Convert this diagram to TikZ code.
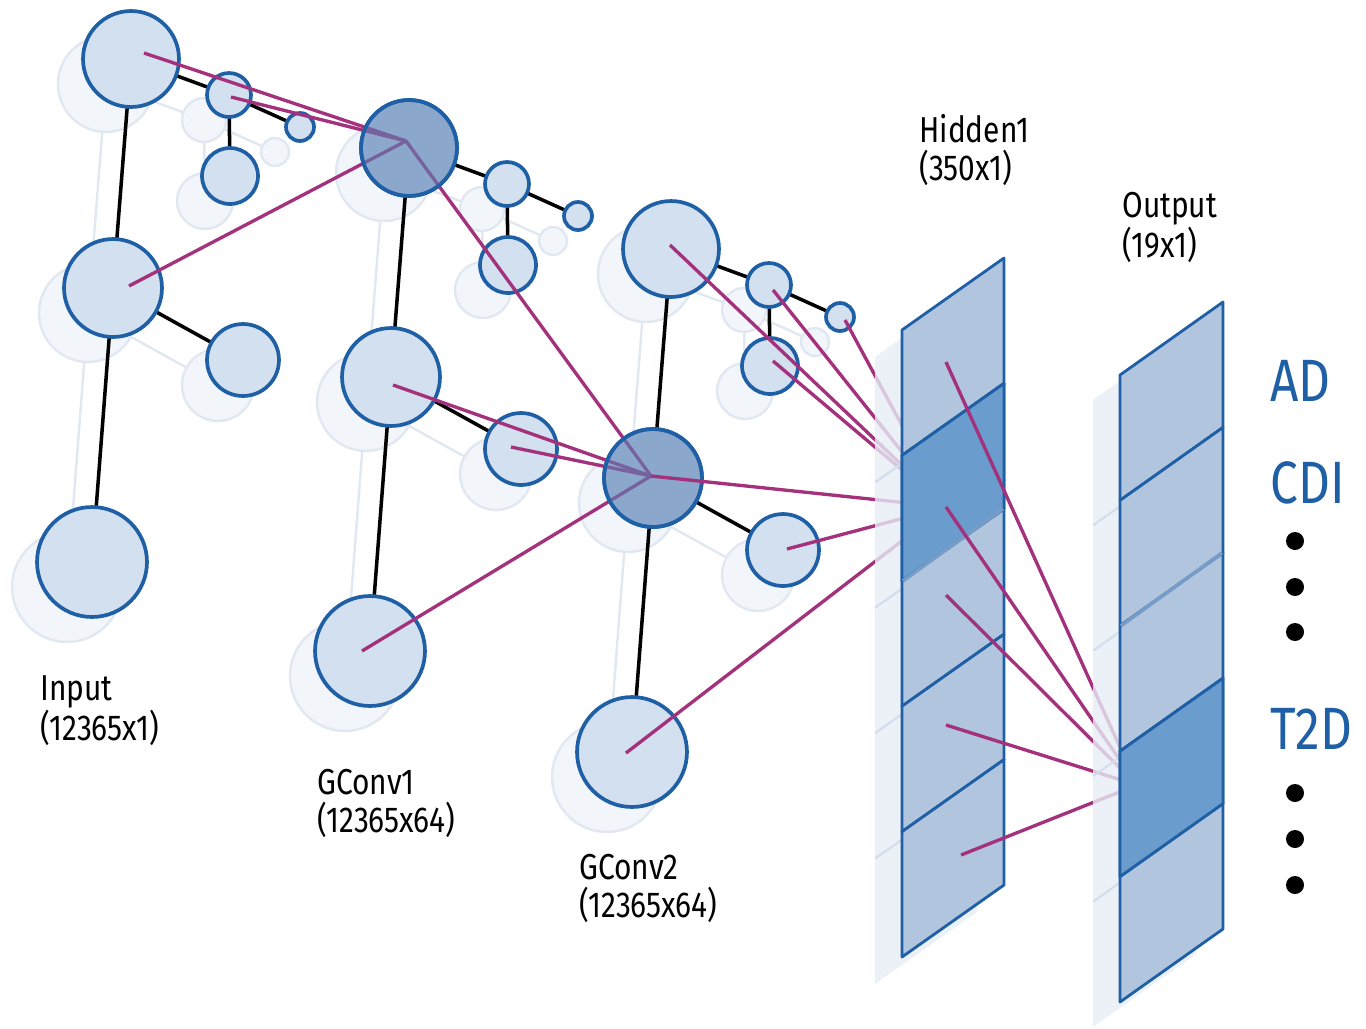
\documentclass[tikz,border=0pt]{standalone}
\usepackage{fontspec}
\setmainfont{Fira Sans}[FakeStretch=0.83]
\definecolor{blu}{HTML}{1E5FA6}
\definecolor{lite}{HTML}{D3E0EF}
\definecolor{deep}{HTML}{5B83B6}
\definecolor{mag}{HTML}{A3317C}
\definecolor{ghfill}{HTML}{F2F5FA}
\definecolor{ghline}{HTML}{E2E8F2}
\definecolor{segfill}{HTML}{B2C5DF}
\definecolor{segdark}{HTML}{6A9CCE}
\definecolor{panel}{HTML}{E7EDF6}
\definecolor{panline}{HTML}{D3DDEC}
% node layout of one graph (index/dx/dy/radius) and its edges
\newcommand{\gpos}{1/0/0/48,2/98/36/22,3/169/68/14,4/99/117/28,5/-18/229/49,6/112/301/36,7/-39/503/55}
\newcommand{\glinks}{1/5,5/7,1/2,2/3,2/4,5/6}
\tikzset{vtx/.style={circle,draw=blu,fill=lite,line width=2.1pt,inner sep=0pt,minimum size=#1*0.04cm},
  ghv/.style={circle,draw=ghline,fill=ghfill,line width=1.4pt,inner sep=0pt,minimum size=#1*0.04cm},
  wire/.style={line width=2pt,draw=black},ghwire/.style={line width=1.4pt,draw=ghline},
  syn/.style={line width=1.9pt,draw=mag},
  active/.style={fill=deep,fill opacity=.6,draw=blu,line width=2.1pt},
  seg/.style={fill=segfill,draw=blu,line width=1.6pt,line join=round},
  lbl/.style={anchor=north west,inner sep=0pt,align=left,font=\fontsize{20.5}{21.6}\selectfont},
  cls/.style={anchor=north west,inner sep=0pt,text=blu,font=\fontsize{34}{36}\selectfont},
  dotn/.style={circle,fill=black,inner sep=0pt,minimum size=3.6mm}}
\begin{document}
\begin{tikzpicture}[x=0.02cm,y=-0.02cm]
\useasboundingbox (0,0) rectangle (1366,1028);
% shadow copies
\foreach \g/\ox/\oy in {a/131/59,b/409/148,c/671/249}{
  \begin{scope}[shift={(\ox-25,\oy+25)}]
    \foreach \i/\px/\py/\r in \gpos \coordinate (s\g\i) at (\px,\py);
  \end{scope}
  \foreach \u/\v in \glinks \draw[ghwire] (s\g\u)--(s\g\v);
  \foreach \i/\px/\py/\r in \gpos \node[ghv=\r] (sn\g\i) at (s\g\i) {};
}
% the three graphs
\foreach \g/\ox/\oy in {a/131/59,b/409/148,c/671/249}{
  \begin{scope}[shift={(\ox,\oy)}]
    \foreach \i/\px/\py/\r in \gpos \coordinate (\g\i) at (\px,\py);
  \end{scope}
  \foreach \u/\v in \glinks \draw[wire] (\g\u)--(\g\v);
  \foreach \i/\px/\py/\r in \gpos \node[vtx=\r] (n\g\i) at (\g\i) {};
}
\foreach \s/\dx/\dy in {a1/13/-6,a2/2/2,a5/16/-2}
  \draw[syn] ([shift={(\dx,\dy)}]\s) -- ([shift={(-3,-7)}]b1);
\foreach \s/\dx/\dy in {b1/-3/-7,b5/2/8,b6/-10/-2,b7/-8/0}
  \draw[syn] ([shift={(\dx,\dy)}]\s) -- ([shift={(-2,-2)}]c5);
\path[active] (b1) circle (48) (c5) circle (49);
% taps in the dense layers
\coordinate (h1) at (946,362);\coordinate (h2) at (946,507);\coordinate (h3) at (946,595);
\coordinate (h4) at (946,725);\coordinate (h5) at (961,855);\coordinate (o4) at (1137,785);
\foreach \s/\dx/\dy in {c1/-1/-4,c2/4/5,c3/5/3,c4/3/-5,c5/-2/-2,c6/4/-1,c7/-6/1}
  \draw[syn] ([shift={(\dx,\dy)}]\s) -- (h2);
% Hidden1
\fill[panel,fill opacity=.8] (875,357)--(977,285)--(977,912)--(875,984)--cycle;
\foreach \k in {1,...,4} \draw[panline,line width=1.2pt] (875,357+125.4*\k)--(977,285+125.4*\k);
\foreach \k in {0,...,4}
  \draw[seg] (902,330+125.4*\k)--(1004,258+125.4*\k)--(1004,383.4+125.4*\k)--(902,455.4+125.4*\k)--cycle;
\draw[seg,fill=segdark] (902,455.4)--(1004,383.4)--(1004,508.8)--(902,580.8)--cycle;
\draw[line width=2pt,draw=blu!40!segfill] (903,580.8)--(1003,508.8);
\foreach \s in {h1,h2,h3,h4,h5} \draw[syn] (\s) -- (o4);
% Output
\fill[panel,fill opacity=.8] (1093,400)--(1196,327)--(1196,954)--(1093,1027)--cycle;
\foreach \k in {1,...,4} \draw[panline,line width=1.2pt] (1093,400+125.4*\k)--(1196,327+125.4*\k);
\foreach \k in {0,...,4}
  \draw[seg] (1120,375+125.4*\k)--(1223,302+125.4*\k)--(1223,427.4+125.4*\k)--(1120,500.4+125.4*\k)--cycle;
\draw[seg,fill=segdark] (1120,751.2)--(1223,678.2)--(1223,803.6)--(1120,876.6)--cycle;
\draw[line width=2pt,draw=blu!40!segfill] (1121,625.8)--(1222,552.8);
% labels
\node[lbl] (lin) at (40,675) {Input\\(12365x1)};
\node[lbl] (lg1) at (317,769) {GConv1\\(12365x64)};
\node[lbl] (lg2) at (579,854) {GConv2\\(12365x64)};
\node[lbl] (lhid) at (919,114) {Hidden1\\(350x1)};
\node[lbl] (lout) at (1122,192) {Output\\(19x1)};
\node[cls] (cad) at (1270,360) {AD};
\node[cls] (ccdi) at (1270,461) {CDI};
\node[cls] (ct2d) at (1270,708) {T2D};
\foreach \y [count=\n] in {541,587,632,793,839,885} \node[dotn] (dot\n) at (1295,\y) {};
\end{tikzpicture}
\end{document}
